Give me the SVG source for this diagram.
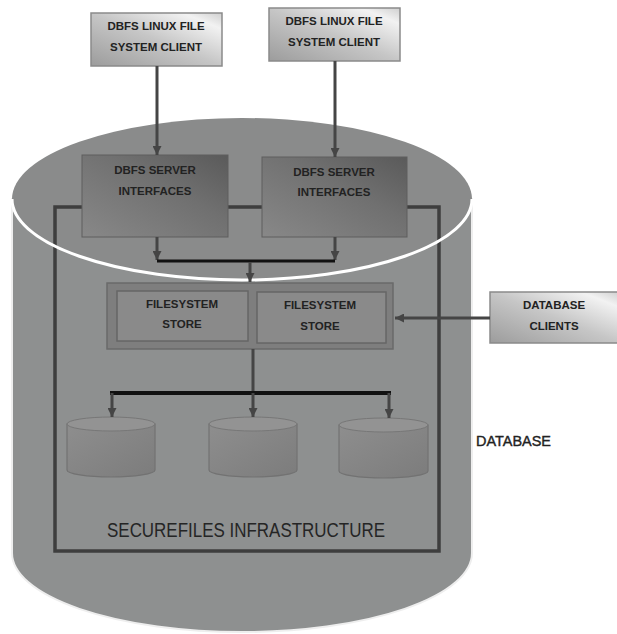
<svg xmlns="http://www.w3.org/2000/svg" width="617" height="634" viewBox="0 0 617 634">
<defs>
<style>
.t{font-family:"Liberation Sans",Arial,sans-serif;font-weight:bold;font-size:11.5px;fill:#222;text-anchor:middle}
.conn{stroke:#454545;stroke-width:3;fill:none}
.bus{stroke:#111;fill:none}
</style>
<linearGradient id="gClient" x1="0" y1="1" x2="1" y2="0">
<stop offset="0" stop-color="#9c9c9c"/>
<stop offset="0.5" stop-color="#c6c6c6"/>
<stop offset="0.85" stop-color="#f2f2f2"/>
<stop offset="1" stop-color="#cfcfcf"/>
</linearGradient>
<linearGradient id="gServer" x1="0" y1="1" x2="1" y2="0">
<stop offset="0" stop-color="#888"/>
<stop offset="0.6" stop-color="#707070"/>
<stop offset="1" stop-color="#5a5a5a"/>
</linearGradient>
<linearGradient id="gCyl" x1="0" y1="0" x2="1" y2="1">
<stop offset="0" stop-color="#8e8e8e"/>
<stop offset="1" stop-color="#7c7c7c"/>
</linearGradient>
<marker id="ah" viewBox="0 0 10 10" refX="10" refY="5" markerWidth="9" markerHeight="9" markerUnits="userSpaceOnUse" orient="auto">
<path d="M0,0 L10,5 L0,10 z" fill="#454545"/>
</marker>
</defs>
<rect width="617" height="634" fill="#ffffff"/>

<g id="database">
<path d="M12,199 L12,553 A230,79 0 0 0 472,553 L472,199 Z" fill="#8e9090" stroke="#eeeeee" stroke-width="2"/>
<ellipse cx="242" cy="199" rx="230" ry="81" fill="#8a8b8b"/>
<text x="476" y="446" font-family="Liberation Sans,Arial,sans-serif" font-size="15" fill="#222" stroke="#222" stroke-width="0.4" textLength="75" lengthAdjust="spacingAndGlyphs">DATABASE</text>
</g>

<g id="securefiles">
<rect x="55" y="207" width="384" height="344" fill="none" stroke="#3e3e3e" stroke-width="3.5"/>
<text x="246" y="537" font-family="Liberation Sans,Arial,sans-serif" font-size="20" fill="#252525" text-anchor="middle" textLength="278" lengthAdjust="spacingAndGlyphs">SECUREFILES INFRASTRUCTURE</text>
</g>

<path d="M12,199 A230,81 0 0 0 472,199" fill="none" stroke="#ffffff" stroke-width="3"/>

<g id="client1">
<rect x="91" y="13" width="131" height="53" fill="url(#gClient)" stroke="#8a8a8a" stroke-width="1.5"/>
<text class="t" x="156" y="30">DBFS LINUX FILE</text>
<text class="t" x="156" y="51">SYSTEM CLIENT</text>
</g>
<g id="client2">
<rect x="269" y="8" width="131" height="53" fill="url(#gClient)" stroke="#8a8a8a" stroke-width="1.5"/>
<text class="t" x="334" y="25">DBFS LINUX FILE</text>
<text class="t" x="334" y="46">SYSTEM CLIENT</text>
</g>

<g id="server1">
<rect x="82" y="155" width="146" height="82" fill="url(#gServer)" stroke="#5e5e5e" stroke-width="1"/>
<text class="t" x="155" y="174">DBFS SERVER</text>
<text class="t" x="155" y="195">INTERFACES</text>
</g>
<g id="server2">
<rect x="262" y="157" width="145" height="80" fill="url(#gServer)" stroke="#5e5e5e" stroke-width="1"/>
<text class="t" x="334" y="176">DBFS SERVER</text>
<text class="t" x="334" y="196">INTERFACES</text>
</g>

<g id="store">
<rect x="107" y="283" width="286" height="66" fill="#7e7e7e" stroke="#6a6a6a" stroke-width="1.5"/>
<g id="store1">
<rect x="117" y="291" width="131" height="50" fill="#8a8a8a" stroke="#666" stroke-width="1.5"/>
<text class="t" x="182" y="308">FILESYSTEM</text>
<text class="t" x="182" y="328">STORE</text>
</g>
<g id="store2">
<rect x="257" y="292" width="129" height="51" fill="#8a8a8a" stroke="#666" stroke-width="1.5"/>
<text class="t" x="320" y="309">FILESYSTEM</text>
<text class="t" x="320" y="330">STORE</text>
</g>
</g>

<g id="dbclients">
<rect x="490" y="292" width="130" height="51" fill="url(#gClient)" stroke="#8a8a8a" stroke-width="1.5"/>
<text class="t" x="554" y="309">DATABASE</text>
<text class="t" x="554" y="330">CLIENTS</text>
</g>

<g id="disk1">
<path d="M67,424 L67,470 A44,7 0 0 0 155,470 L155,424 Z" fill="url(#gCyl)" stroke="#727272" stroke-width="1.2"/>
<ellipse cx="111" cy="424" rx="44" ry="7" fill="#939393" stroke="#777" stroke-width="1"/>
</g>
<g id="disk2">
<path d="M209,424 L209,470 A44,7 0 0 0 297,470 L297,424 Z" fill="url(#gCyl)" stroke="#727272" stroke-width="1.2"/>
<ellipse cx="253" cy="424" rx="44" ry="7" fill="#939393" stroke="#777" stroke-width="1"/>
</g>
<g id="disk3">
<path d="M339,425 L339,471 A44.5,7 0 0 0 428,471 L428,425 Z" fill="url(#gCyl)" stroke="#727272" stroke-width="1.2"/>
<ellipse cx="383.5" cy="425" rx="44.5" ry="7" fill="#939393" stroke="#777" stroke-width="1"/>
</g>

<g id="connectors">
<line class="conn" x1="157" y1="66" x2="157" y2="155" marker-end="url(#ah)"/>
<line class="conn" x1="335" y1="61" x2="335" y2="157" marker-end="url(#ah)"/>
<line class="conn" x1="157" y1="237" x2="157" y2="260" marker-end="url(#ah)"/>
<line class="conn" x1="335" y1="237" x2="335" y2="260" marker-end="url(#ah)"/>
<path class="bus" d="M157,261 H335" stroke-width="3"/>
<line class="conn" x1="250" y1="262" x2="250" y2="282" marker-end="url(#ah)"/>
<line class="conn" x1="253" y1="349" x2="253" y2="393"/>
<path class="bus" d="M110,393 H391" stroke-width="4"/>
<line class="conn" x1="112" y1="393" x2="112" y2="417" marker-end="url(#ah)"/>
<line class="conn" x1="253" y1="393" x2="253" y2="417" marker-end="url(#ah)"/>
<line class="conn" x1="389" y1="393" x2="389" y2="418" marker-end="url(#ah)"/>
<line class="conn" x1="490" y1="318" x2="395" y2="318" marker-end="url(#ah)"/>
</g>
</svg>
